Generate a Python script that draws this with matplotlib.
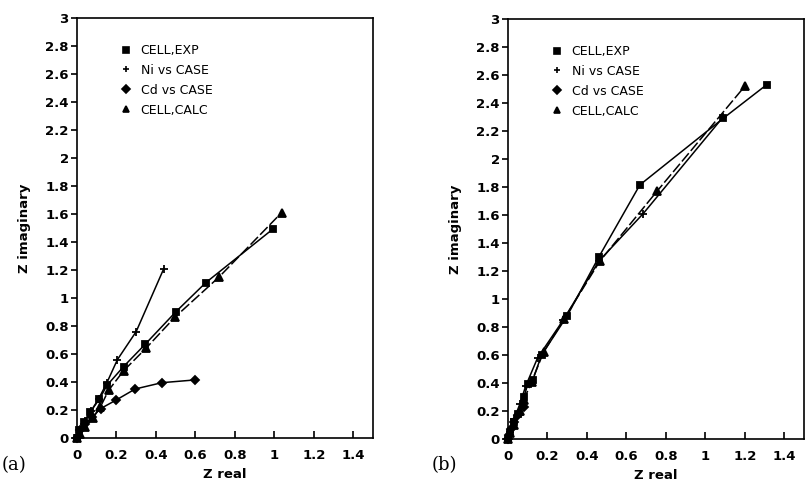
import matplotlib
matplotlib.use("Agg")
import matplotlib.pyplot as plt
from matplotlib.lines import Line2D

# panel (a)
exp_a_x = [0, 0.012, 0.034, 0.067, 0.113, 0.152, 0.236, 0.346, 0.50, 0.653, 0.995]
exp_a_y = [0, 0.055, 0.114, 0.186, 0.276, 0.376, 0.51, 0.67, 0.90, 1.11, 1.495]
ni_a_x = [0, 0.005, 0.02, 0.04, 0.07, 0.11, 0.15, 0.205, 0.30, 0.44]
ni_a_y = [0, 0.02, 0.06, 0.12, 0.19, 0.28, 0.39, 0.56, 0.76, 1.21]
cd_a_x = [0, 0.017, 0.04, 0.076, 0.12, 0.197, 0.295, 0.43, 0.60]
cd_a_y = [0, 0.055, 0.10, 0.15, 0.21, 0.27, 0.35, 0.395, 0.415]
calc_a_x = [0, 0.013, 0.042, 0.08, 0.118, 0.16, 0.236, 0.349, 0.497, 0.72, 1.037]
calc_a_y = [0, 0.03, 0.08, 0.14, 0.22, 0.34, 0.48, 0.64, 0.864, 1.15, 1.61]

# panel (b)
exp_b_x = [0, 0.01, 0.03, 0.05, 0.08, 0.10, 0.125, 0.17, 0.30, 0.46, 0.668, 1.09, 1.31]
exp_b_y = [0, 0.04, 0.12, 0.18, 0.30, 0.39, 0.42, 0.60, 0.88, 1.30, 1.815, 2.29, 2.53]
ni_b_x = [0, 0.01, 0.03, 0.06, 0.09, 0.15, 0.28, 0.46, 0.685, 1.09]
ni_b_y = [0, 0.05, 0.14, 0.25, 0.38, 0.58, 0.85, 1.27, 1.61, 2.30]
cd_b_x = [0, 0.005, 0.015, 0.03, 0.05, 0.08]
cd_b_y = [0, 0.03, 0.07, 0.12, 0.17, 0.23]
calc_b_x = [0, 0.012, 0.03, 0.06, 0.08, 0.12, 0.18, 0.285, 0.465, 0.755, 1.20]
calc_b_y = [0, 0.04, 0.10, 0.20, 0.28, 0.41, 0.62, 0.86, 1.27, 1.77, 2.52]

labels = ["CELL,EXP", "Ni vs CASE", "Cd vs CASE", "CELL,CALC"]
markers = ["s", "+", "D", "^"]
msizes = [5, 6, 4.5, 5.5]
styles = ["-", "-", "-", (0, (7, 2))]

xticks = [0, 0.2, 0.4, 0.6, 0.8, 1.0, 1.2, 1.4]
xtick_labels = ["0", "0.2", "0.4", "0.6", "0.8", "1", "1.2", "1.4"]
yticks = [0, 0.2, 0.4, 0.6, 0.8, 1.0, 1.2, 1.4, 1.6, 1.8, 2.0, 2.2, 2.4, 2.6, 2.8, 3.0]
ytick_labels = ["0", "0.2", "0.4", "0.6", "0.8", "1", "1.2", "1.4", "1.6", "1.8",
                "2", "2.2", "2.4", "2.6", "2.8", "3"]

fig = plt.figure(figsize=(8.06, 4.82), dpi=100)
ax_a = fig.add_axes([0.0955, 0.0913, 0.3673, 0.8714])
ax_b = fig.add_axes([0.6303, 0.0892, 0.3673, 0.8714])

panels = [
    (ax_a, [(exp_a_x, exp_a_y), (ni_a_x, ni_a_y), (cd_a_x, cd_a_y), (calc_a_x, calc_a_y)], "(a)", 0.0),
    (ax_b, [(exp_b_x, exp_b_y), (ni_b_x, ni_b_y), (cd_b_x, cd_b_y), (calc_b_x, calc_b_y)], "(b)", 0.533),
]

for ax, series, tag, tag_x in panels:
    for (xs, ys), m, ms, ls in zip(series, markers, msizes, styles):
        ax.plot(xs, ys, color="black", lw=1.1, ls=ls, marker=m, ms=ms,
                mew=1.3, mfc="black", mec="black", clip_on=False)
    ax.set_xlim(0, 1.5)
    ax.set_ylim(0, 3)
    ax.set_xticks(xticks)
    ax.set_xticklabels(xtick_labels)
    ax.set_yticks(yticks)
    ax.set_yticklabels(ytick_labels)
    ax.tick_params(axis="x", direction="in", length=5, width=1.2, pad=8)
    ax.tick_params(axis="y", direction="out", length=4, width=1.2, pad=2)
    for lab in ax.get_xticklabels() + ax.get_yticklabels():
        lab.set_fontsize(9.5)
        lab.set_fontweight("bold")
    for sp in ax.spines.values():
        sp.set_linewidth(1.2)
    ax.set_xlabel("Z real", fontsize=9.5, fontweight="bold", labelpad=4)
    ax.set_ylabel("Z imaginary", fontsize=9.5, fontweight="bold", labelpad=10)

    handles = [Line2D([], [], color="black", ls="none", marker=m, ms=ms * 0.8, mew=1.2)
               for m, ms in zip(markers, msizes)]
    ax.legend(handles, labels, loc="upper left", bbox_to_anchor=(0.135, 0.95),
              frameon=False, fontsize=9, handlelength=0.6, handletextpad=0.9,
              labelspacing=0.55, borderaxespad=0)

    fig.text(tag_x + 0.002, 0.025, tag, fontsize=13, family="DejaVu Serif")

fig.savefig("out.png", dpi=100)
